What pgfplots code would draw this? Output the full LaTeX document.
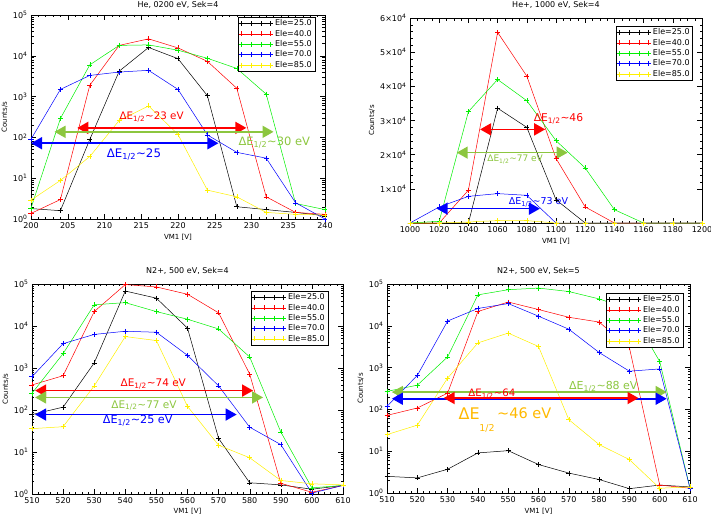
\documentclass[border=0pt]{standalone}
\usepackage{fontspec}
\setmainfont{DejaVu Sans}
\usepackage{pgfplots}
\pgfplotsset{compat=1.18}
\usetikzlibrary{arrows.meta}
\definecolor{ygreen}{RGB}{140,198,63}
\definecolor{gold}{RGB}{255,185,0}
\definecolor{cred}{RGB}{255,0,0}
\definecolor{cgreen}{RGB}{0,240,0}
\definecolor{cblue}{RGB}{0,0,255}
\definecolor{cyellow}{RGB}{255,240,0}
\newcommand{\dE}{ΔE\textsubscript{1/2}\textasciitilde}
\tikzset{dea/.style={line width=1.6pt, {Triangle[length=11pt,width=12pt]}-{Triangle[length=11pt,width=12pt]}}}
\pgfplotsset{
 panel/.style={
  scale only axis, anchor=south west,
  axis line style={line width=0.5pt},
  every tick/.style={black, line width=0.4pt},
  major tick length=5pt, minor tick length=2.5pt,
  tick label style={font=\fontsize{8}{9}\selectfont},
  every axis x label/.style={at={(ticklabel cs:0.5)}, anchor=near ticklabel, inner sep=2.5pt, font=\fontsize{7}{8}\selectfont},
  every axis y label/.style={at={(ticklabel cs:0.5)}, rotate=90, anchor=near ticklabel, inner sep=2pt, font=\fontsize{7}{8}\selectfont},
  every axis title/.style={at={(0.5,1)}, anchor=south, inner sep=0pt, font=\fontsize{8}{9}\selectfont},
  xlabel={VM1 [V]}, ylabel={Counts/s},
  /pgf/number format/assume math mode=true,
  /pgf/number format/1000 sep={},
  scaled ticks=false,
  legend cell align=left,
  legend style={draw=black, fill=white, font=\fontsize{8}{9}\selectfont,
    inner xsep=1pt, inner ysep=0.5pt, row sep=-1.2pt, anchor=north east, line width=0.5pt},
  legend image code/.code={\draw[##1] plot coordinates {(0pt,0pt) (9.7pt,0pt) (19.3pt,0pt) (29pt,0pt)};},
 },
 s1/.style={black, line width=0.5pt, mark=+, mark size=2.5pt},
 s2/.style={cred, line width=0.5pt, mark=+, mark size=2.5pt},
 s3/.style={cgreen, line width=0.5pt, mark=+, mark size=2.5pt},
 s4/.style={cblue, line width=0.5pt, mark=+, mark size=2.5pt},
 s5/.style={cyellow, line width=0.5pt, mark=+, mark size=2.5pt},
}
\begin{document}
\begin{tikzpicture}
\useasboundingbox (0,0) rectangle (711pt,517pt);
% ---------------- Panel 1
\begin{axis}[panel, ymode=log, ymin=1, ymax=100000,
  ytick={1,10,100,1000,10000,100000},
  yticklabels={10\textsuperscript{0},10\textsuperscript{1},10\textsuperscript{2},10\textsuperscript{3},10\textsuperscript{4},10\textsuperscript{5}},
  minor ytick={2,3,4,5,6,7,8,9,20,30,40,50,60,70,80,90,200,300,400,500,600,700,800,900,2000,3000,4000,5000,6000,7000,8000,9000,20000,30000,40000,50000,60000,70000,80000,90000},
  at={(31pt,298pt)}, width=294pt, height=204pt,
  title={He, 0200 eV, Sek=4}, title style={yshift=6pt},
  xmin=200, xmax=240, xtick={200,205,...,240}, minor x tick num=4,
  legend style={at={(0.966,0.990)}}]
\addplot[s1] coordinates {(200,1.8)(204,1.6)(208,89)(212,4200)(216,16000)(220,8500)(224,1050)(228,2.0)(232,1.7)(236,1.45)(240,1.2)};
\addplot[s2] coordinates {(200,1.37)(204,3.0)(208,1900)(212,18000)(216,26000)(220,15600)(224,7300)(228,1600)(232,3.5)(236,1.45)(240,1.3)};
\addplot[s3] coordinates {(200,1.85)(204,290)(208,6000)(212,18000)(216,18500)(220,13700)(224,8700)(228,4900)(232,1150)(236,2.4)(240,1.7)};
\addplot[s4] coordinates {(200,90)(204,1500)(208,3300)(212,4000)(216,4400)(220,1500)(224,115)(228,43)(232,31)(236,2.5)(240,1.0)};
\addplot[s5] coordinates {(200,2.9)(204,8.8)(208,34)(212,260)(216,590)(220,118)(224,5.1)(228,3.5)(232,1.45)(236,1.3)(240,1.25)};
\legend{{Ele=25.0},{Ele=40.0},{Ele=55.0},{Ele=70.0},{Ele=85.0}}
\draw[dea, cred] (axis cs:206.3,171) -- (axis cs:229.3,171);
\draw[dea, ygreen] (axis cs:203.2,137) -- (axis cs:233,137);
\draw[dea, cblue] (axis cs:200,72) -- (axis cs:225.5,72);
\node[text=cred, font=\fontsize{10.3}{12}\selectfont] at (axis cs:216.4,316) {\dE23 eV};
\node[text=ygreen, font=\fontsize{11.5}{13}\selectfont] at (axis cs:233.1,76) {\dE30 eV};
\node[text=cblue, font=\fontsize{11.8}{13}\selectfont] at (axis cs:214,39) {\dE25};
\end{axis}
% ---------------- Panel 2
\begin{axis}[panel, at={(410pt,294pt)}, width=292pt, height=205pt,
  title={He+, 1000 eV, Sek=4}, title style={yshift=9pt},
  xmin=1000, xmax=1200, xtick={1000,1020,...,1200}, minor x tick num=3,
  ymin=0, ymax=60000, ytick={10000,20000,30000,40000,50000,60000},
  yticklabels={1×10\textsuperscript{4},2×10\textsuperscript{4},3×10\textsuperscript{4},4×10\textsuperscript{4},5×10\textsuperscript{4},6×10\textsuperscript{4}},
  minor y tick num=4,
  legend style={at={(0.969,0.961)}}]
\addplot[s1] coordinates {(1000,0)(1020,0)(1040,0)(1060,33600)(1080,28000)(1100,6800)(1120,0)(1140,0)(1160,0)(1180,0)(1200,0)};
\addplot[s2] coordinates {(1000,0)(1020,0)(1040,9600)(1060,55800)(1080,43000)(1100,18900)(1120,4700)(1140,0)(1160,0)(1180,0)(1200,0)};
\addplot[s3] coordinates {(1000,0)(1020,500)(1040,32600)(1060,42000)(1080,35800)(1100,24100)(1120,16100)(1140,3900)(1160,0)(1180,0)(1200,0)};
\addplot[s4] coordinates {(1000,0)(1020,4700)(1040,7800)(1060,8600)(1080,8100)(1100,0)(1120,0)(1140,0)(1160,0)(1180,0)(1200,0)};
\addplot[s5] coordinates {(1000,0)(1020,0)(1040,300)(1060,700)(1080,700)(1100,0)(1120,0)(1140,0)(1160,0)(1180,0)(1200,0)};
\legend{{Ele=25.0},{Ele=40.0},{Ele=55.0},{Ele=70.0},{Ele=85.0}}
\draw[dea, cred] (axis cs:1048,27400) -- (axis cs:1092.6,27400);
\draw[dea, ygreen] (axis cs:1032,20600) -- (axis cs:1108,20600);
\draw[dea, cblue] (axis cs:1018.3,4200) -- (axis cs:1089,4200);
\node[text=cred, font=\fontsize{10.7}{12}\selectfont] at (axis cs:1101.7,30400) {\dE46};
\node[text=ygreen, font=\fontsize{9}{11}\selectfont] at (axis cs:1072,18600) {\dE77 eV};
\node[text=cblue, font=\fontsize{9.5}{11}\selectfont] at (axis cs:1088,6000) {\dE73 eV};
\end{axis}
% ---------------- Panel 3
\begin{axis}[panel, ymode=log, ymin=1, ymax=100000,
  ytick={1,10,100,1000,10000,100000},
  yticklabels={10\textsuperscript{0},10\textsuperscript{1},10\textsuperscript{2},10\textsuperscript{3},10\textsuperscript{4},10\textsuperscript{5}},
  minor ytick={2,3,4,5,6,7,8,9,20,30,40,50,60,70,80,90,200,300,400,500,600,700,800,900,2000,3000,4000,5000,6000,7000,8000,9000,20000,30000,40000,50000,60000,70000,80000,90000},
  at={(32pt,23pt)}, width=311pt, height=210pt,
  title={N2+, 500 eV, Sek=4}, title style={yshift=9pt},
  xlabel style={inner sep=1pt},
  xmin=510, xmax=610, xtick={510,520,...,610}, minor x tick num=4,
  legend style={at={(0.952,0.967)}}]
\addplot[s1] coordinates {(510,78)(520,117)(530,1320)(540,68000)(550,46000)(560,8900)(570,21)(580,1.85)(590,1.65)(600,1.3)(610,1.6)};
\addplot[s2] coordinates {(510,395)(520,655)(530,22000)(540,97000)(550,85000)(560,57000)(570,20600)(580,715)(590,1.8)(600,1.1)(610,1.6)};
\addplot[s3] coordinates {(510,250)(520,2200)(530,32000)(540,36000)(550,22000)(560,14500)(570,8500)(580,1830)(590,30)(600,1.4)(610,1.6)};
\addplot[s4] coordinates {(510,620)(520,3800)(530,6300)(540,7500)(550,7100)(560,2000)(570,375)(580,39)(590,15)(600,1.05)(610,1.6)};
\addplot[s5] coordinates {(510,36)(520,40)(530,375)(540,5600)(550,4500)(560,122)(570,14.5)(580,7.3)(590,2.1)(600,1.75)(610,1.65)};
\legend{{Ele=25.0},{Ele=40.0},{Ele=55.0},{Ele=70.0},{Ele=85.0}}
\draw[dea, cred] (axis cs:511,290) -- (axis cs:581.1,290);
\draw[dea, ygreen] (axis cs:511,199) -- (axis cs:584.3,199);
\draw[dea, cblue] (axis cs:511,78) -- (axis cs:575.8,78);
\node[text=cred, font=\fontsize{10.5}{12}\selectfont] at (axis cs:549,417) {\dE74 eV};
\node[text=ygreen, font=\fontsize{10.5}{12}\selectfont] at (axis cs:546,129) {\dE77 eV};
\node[text=cblue, font=\fontsize{11.2}{13}\selectfont] at (axis cs:544,56) {\dE25 eV};
\end{axis}
% ---------------- Panel 4
\begin{axis}[panel, ymode=log, ymin=1, ymax=100000,
  ytick={1,10,100,1000,10000,100000},
  yticklabels={10\textsuperscript{0},10\textsuperscript{1},10\textsuperscript{2},10\textsuperscript{3},10\textsuperscript{4},10\textsuperscript{5}},
  minor ytick={2,3,4,5,6,7,8,9,20,30,40,50,60,70,80,90,200,300,400,500,600,700,800,900,2000,3000,4000,5000,6000,7000,8000,9000,20000,30000,40000,50000,60000,70000,80000,90000},
  at={(387pt,24pt)}, width=303pt, height=209pt,
  title={N2+, 500 eV, Sek=5}, title style={yshift=9pt},
  xmin=510, xmax=610, xtick={510,520,...,610}, minor x tick num=4,
  legend style={at={(0.977,0.957)}}]
\addplot[s1] coordinates {(510,2.5)(520,2.3)(530,3.7)(540,9.1)(550,10.3)(560,4.8)(570,3.0)(580,2.1)(590,1.27)(600,1.55)(610,1.4)};
\addplot[s2] coordinates {(510,72)(520,108)(530,245)(540,22000)(550,37000)(560,24500)(570,16000)(580,12300)(590,3000)(600,1.55)(610,1.3)};
\addplot[s3] coordinates {(510,270)(520,380)(530,1800)(540,55000)(550,73000)(560,80000)(570,66000)(580,44000)(590,25000)(600,1400)(610,1.3)};
\addplot[s4] coordinates {(510,118)(520,650)(530,13000)(540,26000)(550,34000)(560,17000)(570,8300)(580,2300)(590,820)(600,930)(610,1.3)};
\addplot[s5] coordinates {(510,25)(520,42)(530,560)(540,3900)(550,6700)(560,3200)(570,57)(580,14.4)(590,6.3)(600,1.3)(610,1.4)};
\legend{{Ele=25.0},{Ele=40.0},{Ele=55.0},{Ele=70.0},{Ele=85.0}}
\draw[dea, ygreen] (axis cs:511.6,260) -- (axis cs:602.3,260);
\draw[dea, cblue] (axis cs:511.6,180) -- (axis cs:602.3,180);
\draw[dea, cred] (axis cs:528.7,187) -- (axis cs:593,187);
\node[text=ygreen, font=\fontsize{11}{12}\selectfont] at (axis cs:581.4,355) {\dE88 eV};
\node[text=cred, font=\fontsize{10.2}{12}\selectfont] at (axis cs:544.6,235) {\dE64};
\node[text=gold, font=\fontsize{16}{17}\selectfont, anchor=west] at (axis cs:532.5,81) {ΔE};
\node[text=gold, font=\fontsize{14.5}{16}\selectfont, anchor=west] at (axis cs:545.2,81) {\textasciitilde46 eV};
\node[text=gold, font=\fontsize{9.5}{11}\selectfont] at (axis cs:543,36) {1/2};
\end{axis}
\end{tikzpicture}
\end{document}
